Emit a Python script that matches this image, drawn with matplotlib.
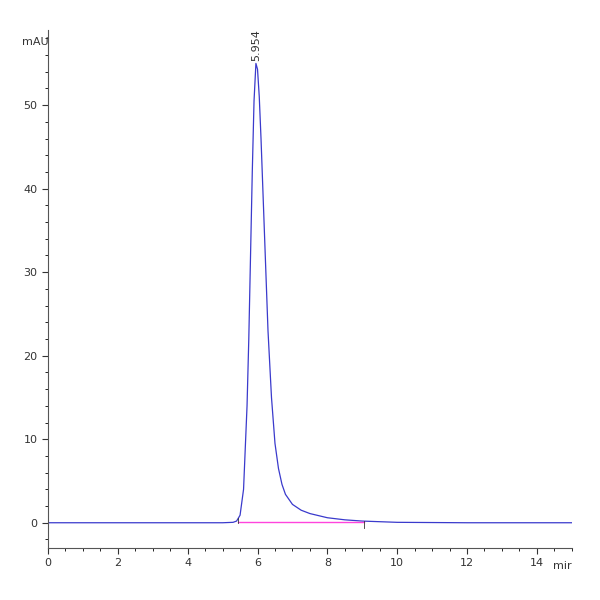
import numpy as np
import matplotlib.pyplot as plt
from matplotlib.ticker import MultipleLocator

# chromatogram (min, mAU)
time_min = [0, 1, 2, 3, 4, 5.0, 5.3, 5.4, 5.5, 5.6, 5.7, 5.75, 5.8, 5.85, 5.9, 5.954, 6.0,
            6.05, 6.1, 6.2, 6.3, 6.4, 6.5, 6.6, 6.7, 6.8, 7.0, 7.25, 7.5, 8.0, 8.5, 9.0,
            10.0, 12.0, 15.0]
signal = [0.0, 0.0, 0.0, 0.0, 0.0, 0.0, 0.05, 0.2, 0.9, 4.0, 14.0, 22.0, 32.0, 42.0, 50.5,
          55.0, 54.3, 51.0, 46.0, 34.5, 23.0, 15.0, 9.5, 6.5, 4.6, 3.4, 2.2, 1.5, 1.1,
          0.6, 0.35, 0.2, 0.05, 0.0, 0.0]
peak_rt = 5.954
peak_label = "5.954"
base_start, base_end = 5.45, 9.05

fig = plt.figure(figsize=(6, 6), dpi=100)
ax = fig.add_axes([0.08, 0.087, 0.873, 0.863])

ax.plot(time_min, signal, color="#3a3acc", lw=0.9)
ax.plot([base_start, base_end], [0.05, 0.05], color="#ff44dd", lw=1.0)
ax.plot([base_start, base_start], [0, 0.6], color="#333333", lw=0.6)
ax.plot([base_end, base_end], [-0.6, 0.2], color="#333333", lw=0.6)

ax.text(peak_rt, 55.3, peak_label, rotation=90, ha="center", va="bottom",
        fontsize=8, color="#333333")

ax.set_xlim(0, 15)
ax.set_ylim(-3, 59)
ax.xaxis.set_major_locator(MultipleLocator(2))
ax.xaxis.set_minor_locator(MultipleLocator(0.5))
ax.yaxis.set_major_locator(MultipleLocator(10))
ax.yaxis.set_minor_locator(MultipleLocator(2))
ax.spines["top"].set_visible(False)
ax.spines["right"].set_visible(False)
for s in ("left", "bottom"):
    ax.spines[s].set_color("#555555")
ax.tick_params(labelsize=8, colors="#333333", length=4)
ax.tick_params(which="minor", length=2.5)
ax.set_yticks([0, 10, 20, 30, 40, 50])
ax.set_xticks([0, 2, 4, 6, 8, 10, 12, 14])
fig.text(0.037, 0.93, "mAU", ha="left", va="center", fontsize=8, color="#333333")
ax.text(1.0, -0.035, "mir", transform=ax.transAxes, ha="right", va="center",
        fontsize=8, color="#333333")

fig.savefig("out.png", dpi=100, facecolor="white")
